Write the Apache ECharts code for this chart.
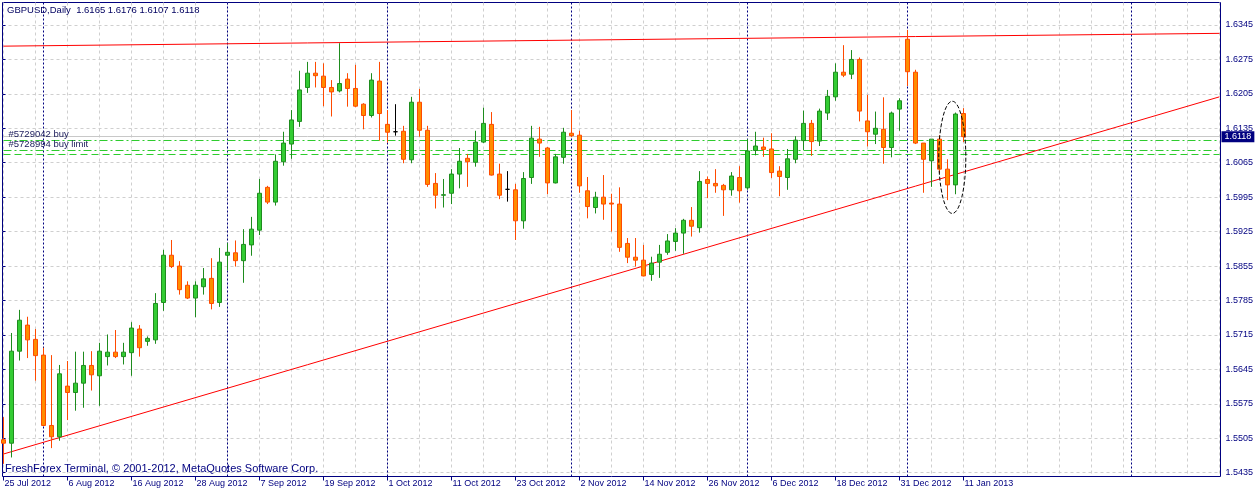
<!DOCTYPE html>
<html><head><meta charset="utf-8">
<script src="https://cdn.jsdelivr.net/npm/echarts@6/dist/echarts.min.js"></script>
<style>html,body{margin:0;padding:0;background:#fff}#c{width:1258px;height:494px}</style>
</head><body><div id="c"></div><script>
const tickLabels = ['25 Jul 2012','6 Aug 2012','16 Aug 2012','28 Aug 2012','7 Sep 2012','19 Sep 2012','1 Oct 2012','11 Oct 2012','23 Oct 2012','2 Nov 2012','14 Nov 2012','26 Nov 2012','6 Dec 2012','18 Dec 2012','31 Dec 2012','11 Jan 2013'];
const priceTicks = [1.5435,1.5505,1.5575,1.5645,1.5715,1.5785,1.5855,1.5925,1.5995,1.6065,1.6135,1.6205,1.6275,1.6345];
const opens = [1.5502,1.5495,1.5682,1.5735,1.5706,1.5674,1.5531,1.5508,1.5611,1.5598,
 1.5617,1.5653,1.5632,1.5671,1.5680,1.5671,1.5679,1.5727,1.5702,1.5705,
 1.5781,1.5877,1.5855,1.5816,1.5790,1.5813,1.5830,1.5781,1.5877,1.5882,
 1.5866,1.5898,1.5928,1.6015,1.5985,1.6067,1.6103,1.6149,1.6218,1.6247,
 1.6241,1.6218,1.6211,1.6235,1.6216,1.6184,1.6161,1.6231,1.6143,1.6128,
 1.6129,1.6071,1.6188,1.6131,1.6023,1.5999,1.6003,1.6042,1.6074,1.6066,
 1.6107,1.6143,1.6042,1.6011,1.6010,1.5947,1.6035,1.6113,1.6095,1.6024,
 1.6076,1.6125,1.6121,1.6008,1.5974,1.5995,1.5983,1.5981,1.5901,1.5873,
 1.5867,1.5838,1.5863,1.5883,1.5905,1.5922,1.5948,1.5933,1.6031,1.6023,
 1.6019,1.6010,1.6035,1.6014,1.6090,1.6097,1.6093,1.6048,1.6035,1.6072,
 1.6110,1.6145,1.6109,1.6166,1.6199,1.6249,1.6245,1.6275,1.6150,1.6123,
 1.6133,1.6096,1.6174,1.6316,1.6249,1.6105,1.6069,1.6113,1.6052,1.6020,
 1.6165];
const highs = [1.5548,1.5719,1.5766,1.5752,1.5727,1.5689,1.5674,1.5654,1.5662,1.5681,
 1.5681,1.5682,1.5699,1.5716,1.5725,1.5699,1.5741,1.5735,1.5712,1.5800,
 1.5888,1.5908,1.5865,1.5824,1.5824,1.5851,1.5871,1.5892,1.5902,1.5907,
 1.5930,1.5955,1.6032,1.6018,1.6082,1.6128,1.6172,1.6252,1.6270,1.6270,
 1.6267,1.6233,1.6308,1.6247,1.6264,1.6186,1.6247,1.6270,1.6172,1.6184,
 1.6140,1.6199,1.6215,1.6140,1.6044,1.6032,1.6052,1.6095,1.6083,1.6130,
 1.6177,1.6168,1.6063,1.6048,1.6022,1.6046,1.6140,1.6138,1.6097,1.6083,
 1.6136,1.6172,1.6130,1.6036,1.6006,1.6040,1.6002,1.6015,1.5912,1.5912,
 1.5898,1.5874,1.5898,1.5920,1.5932,1.5951,1.5975,1.6048,1.6037,1.6052,
 1.6022,1.6046,1.6058,1.6113,1.6128,1.6116,1.6125,1.6058,1.6093,1.6119,
 1.6171,1.6152,1.6175,1.6213,1.6267,1.6304,1.6294,1.6279,1.6203,1.6169,
 1.6198,1.6169,1.6196,1.6335,1.6254,1.6105,1.6113,1.6121,1.6072,1.6167,
 1.6176];
const lows = [1.5453,1.5466,1.5663,1.5668,1.5622,1.5530,1.5485,1.5500,1.5542,1.5561,
 1.5567,1.5602,1.5571,1.5653,1.5668,1.5655,1.5632,1.5671,1.5693,1.5697,
 1.5764,1.5851,1.5797,1.5788,1.5751,1.5797,1.5767,1.5772,1.5846,1.5854,
 1.5821,1.5876,1.5918,1.5981,1.5978,1.6059,1.6073,1.6138,1.6207,1.6218,
 1.6180,1.6159,1.6208,1.6179,1.6178,1.6133,1.6157,1.6110,1.6106,1.6120,
 1.6064,1.6064,1.6118,1.6016,1.5972,1.5974,1.5981,1.6013,1.6016,1.6057,
 1.6105,1.6039,1.5991,1.5986,1.5908,1.5931,1.6022,1.6077,1.6001,1.6023,
 1.6063,1.6117,1.6004,1.5952,1.5962,1.5949,1.5925,1.5884,1.5861,1.5854,
 1.5834,1.5825,1.5831,1.5878,1.5886,1.5880,1.5915,1.5923,1.5993,1.6004,
 1.5957,1.5998,1.5984,1.6010,1.6080,1.6077,1.6034,1.5997,1.6010,1.6064,
 1.6091,1.6079,1.6099,1.6152,1.6191,1.6239,1.6235,1.6149,1.6098,1.6103,
 1.6063,1.6076,1.6130,1.6221,1.6103,1.6004,1.6016,1.6044,1.5989,1.6001,
 1.6107];
const closes = [1.5495,1.5682,1.5745,1.5705,1.5673,1.5531,1.5508,1.5636,1.5598,1.5617,
 1.5653,1.5634,1.5682,1.5680,1.5671,1.5680,1.5729,1.5689,1.5708,1.5779,
 1.5877,1.5854,1.5807,1.5790,1.5816,1.5829,1.5779,1.5863,1.5883,1.5866,
 1.5899,1.5930,1.6003,1.5985,1.6068,1.6105,1.6152,1.6213,1.6247,1.6242,
 1.6218,1.6209,1.6226,1.6216,1.6180,1.6161,1.6233,1.6165,1.6127,1.6128,
 1.6072,1.6188,1.6131,1.6021,1.5999,1.6000,1.6042,1.6068,1.6067,1.6107,
 1.6145,1.6040,1.5999,1.6011,1.5947,1.6033,1.6115,1.6105,1.6024,1.6077,
 1.6127,1.6120,1.6018,1.5976,1.5995,1.5981,1.5981,1.5893,1.5873,1.5867,
 1.5835,1.5861,1.5879,1.5906,1.5922,1.5948,1.5936,1.6027,1.6023,1.6018,
 1.6010,1.6038,1.6008,1.6089,1.6099,1.6092,1.6045,1.6037,1.6073,1.6111,
 1.6145,1.6108,1.6170,1.6200,1.6249,1.6243,1.6275,1.6170,1.6128,1.6135,
 1.6096,1.6166,1.6191,1.6250,1.6105,1.6072,1.6113,1.6052,1.6020,1.6164,
 1.6118];
const slotCount = 153;
const monthStarts = [5, 28, 48, 71, 93, 113, 141];
const upperTrend = [[0, 1.6302], [152, 1.6328]];
const lowerTrend = [[0, 1.5473], [152, 1.6199]];
const orderLevels = [1.6111, 1.6091, 1.6082];
const orderNames = ['#5729042 buy', '#5728994 buy limit', ''];
const bidPrice = 1.6118;
const ellipseMark = [118, 1.6076, 0.6, 1.69, 0.0114];
const yMin = 1.54273, yMax = 1.63907;
const titleText = 'GBPUSD,Daily  1.6165 1.6176 1.6107 1.6118';
const copyrightText = 'FreshForex Terminal, \u00A9 2001-2012, MetaQuotes Software Corp.';

const NAVY = '#000080';
const FONT = "'Liberation Sans', Arial, sans-serif";
const categories = Array.from({length: slotCount}, (_, i) => String(i));
const candleData = opens.map((o, i) => [o, closes[i], lows[i], highs[i]]);
const isDateTick = (i) => i % 8 === 0 && (i / 8) < tickLabels.length;

const chart = echarts.init(document.getElementById('c'), null, {renderer: 'canvas'});
chart.setOption({
  animation: false,
  backgroundColor: '#ffffff',
  textStyle: {fontFamily: FONT},
  title: [
    {text: titleText, left: 7, top: 5, padding: 0,
     textStyle: {fontSize: 9.5, fontWeight: 'normal', color: '#000060', fontFamily: FONT}},
    {text: copyrightText, left: 5, top: 463, padding: 0,
     textStyle: {fontSize: 11, fontWeight: 'normal', color: NAVY, fontFamily: FONT}}
  ],
  grid: [
    {left: 2.5, right: 37.5, top: 2.5, bottom: 17.5, show: true, borderColor: NAVY, borderWidth: 1, backgroundColor: 'transparent'},
    {left: 3.5, right: 38.5, top: 2.5, bottom: 17.5}
  ],
  xAxis: [
    {gridIndex: 0, type: 'value', min: 0, max: 1, show: false},
    {gridIndex: 1, type: 'category', data: categories, boundaryGap: false,
     axisLine: {show: false},
     axisTick: {show: true, interval: (i) => isDateTick(i), length: 4, lineStyle: {color: NAVY}},
     axisLabel: {show: true, interval: (i) => isDateTick(i), formatter: (v, i) => tickLabels[i / 8] || '',
       align: 'left', margin: 3, color: NAVY, fontSize: 9, fontFamily: FONT, padding: [0, 0, 0, 1]},
     splitLine: {show: true, interval: (i) => i % 4 === 0, lineStyle: {color: '#cfcfcf', type: [3, 3], width: 1}}}
  ],
  yAxis: [
    {gridIndex: 0, type: 'value', position: 'right', min: yMin, max: yMax,
     axisLine: {show: false},
     axisTick: {show: true, customValues: priceTicks, length: 3, lineStyle: {color: NAVY}},
     axisLabel: {show: true, customValues: priceTicks, formatter: (v) => v.toFixed(4), color: NAVY, fontSize: 9, fontFamily: FONT, margin: 5},
     splitLine: {show: true, lineStyle: {color: '#cfcfcf', type: [3, 3], width: 1}}},
    {gridIndex: 1, type: 'value', min: yMin, max: yMax, show: false}
  ],
  series: [
    {type: 'line', xAxisIndex: 1, yAxisIndex: 1, data: [], silent: true, z: 1,
     markLine: {symbol: 'none', silent: true, z: 1, animation: false, label: {show: false},
       lineStyle: {color: NAVY, type: [2, 2], width: 1},
       data: monthStarts.map(m => ({xAxis: m}))}},
    {type: 'line', xAxisIndex: 1, yAxisIndex: 1, data: [], silent: true, z: 1,
     markLine: {symbol: 'none', silent: true, animation: false, z: 1, precision: 6, label: {show: false},
       data: [
         {yAxis: bidPrice, lineStyle: {color: '#C8C8C8', type: 'solid', width: 1},
          label: {show: true, position: 'end', distance: 2, formatter: bidPrice.toFixed(4), color: '#ffffff',
                  backgroundColor: NAVY, padding: [1, 3, 0, 3], fontSize: 9, fontFamily: FONT, lineHeight: 10}},
         ...orderLevels.map((lv, k) => ({yAxis: lv,
           lineStyle: {color: '#2ECC2E', type: k === 2 ? [7, 4] : [8, 3, 2, 3], width: 1},
           label: {show: orderNames[k] !== '', position: 'insideStartTop', distance: [5, 1], formatter: orderNames[k],
                   color: '#1a1a5a', fontSize: 9.5, fontFamily: FONT}})),
         [{coord: upperTrend[0]}, {coord: upperTrend[1], lineStyle: {color: '#FF0000', type: 'solid', width: 1}}],
         [{coord: lowerTrend[0]}, {coord: lowerTrend[1], lineStyle: {color: '#FF0000', type: 'solid', width: 1}}]
       ]}},
    {type: 'candlestick', name: 'GBPUSD', xAxisIndex: 1, yAxisIndex: 1, z: 3, clip: false, silent: true,
     barWidth: 4, data: candleData,
     itemStyle: {color: '#33CC33', color0: '#FF8C00', borderColor: '#1E8C1E', borderColor0: '#FF4A00', borderColorDoji: '#000000', borderWidth: 1}},
    {type: 'custom', xAxisIndex: 1, yAxisIndex: 1, z: 6, silent: true, clip: false,
     data: [ellipseMark],
     renderItem: (params, api) => {
       const c = api.coord([api.value(0), api.value(1)]);
       const band = api.size([1, 0])[0];
       const ry = api.size([0, api.value(4)])[1];
       return {type: 'ellipse',
         shape: {cx: c[0] + api.value(2) * band, cy: c[1], rx: api.value(3) * band, ry: ry},
         style: {fill: 'none', stroke: '#000000', lineWidth: 1, lineDash: [4, 2]}};
     }}
  ]
});
</script></body></html>
